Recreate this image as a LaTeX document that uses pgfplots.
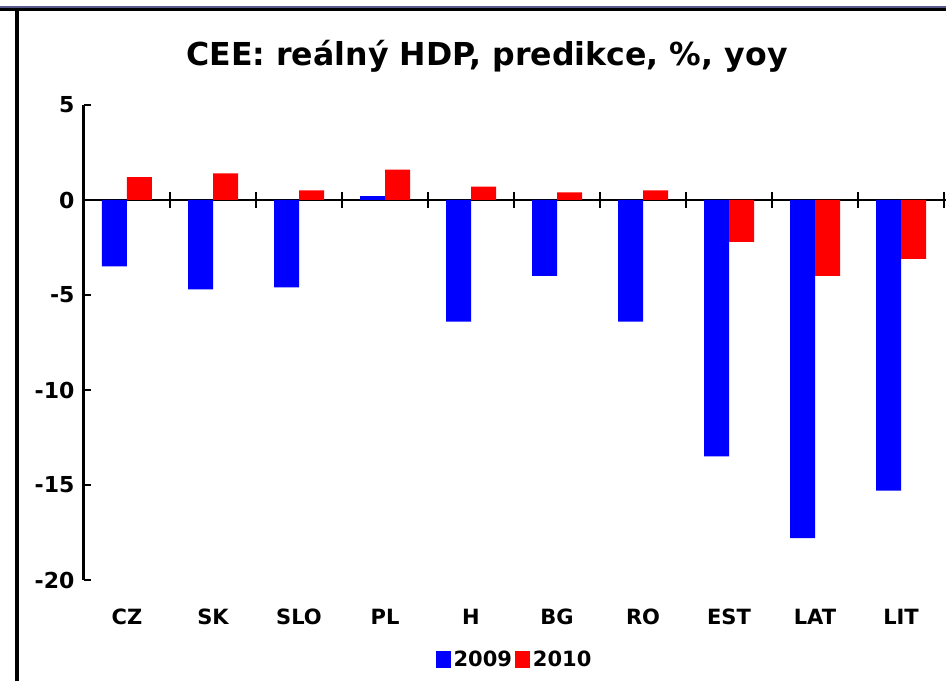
\documentclass[border=0pt]{standalone}
\usepackage{pgfplots}
\pgfplotsset{compat=1.18}
\usepackage{fontspec}
\setmainfont{DejaVu Sans}
\definecolor{barblue}{RGB}{0,0,255}
\definecolor{barred}{RGB}{255,0,0}
\definecolor{framenavy}{RGB}{90,90,140}
\begin{document}
\begin{tikzpicture}
\useasboundingbox (0pt,0pt) rectangle (946pt,681pt);
\fill[white] (0pt,0pt) rectangle (946pt,681pt);
% frame
\draw[framenavy, line width=2pt] (0pt,674pt) -- (946pt,674pt);
\draw[black, line width=3pt] (0pt,671pt) -- (946pt,671pt);
\draw[black, line width=3.5pt] (17pt,0pt) -- (17pt,672pt);
% title
\node[anchor=base, font=\fontsize{31.6}{36}\selectfont\bfseries] at (487pt,615pt) {CEE: reálný HDP, predikce, \%, yoy};
\begin{axis}[
  at={(127pt,481pt)}, anchor=origin,
  scale only axis, width=862pt, height=475pt,
  xmin=-0.5, xmax=9.523, ymin=-20, ymax=5,
  axis y line=left, axis x line=middle,
  x axis line style={-, line width=2.5pt},
  y axis line style={-, line width=3pt},
  ybar=0pt, bar width=25pt,
  xtick={0,...,9},
  xticklabels={CZ,SK,SLO,PL,H,BG,RO,EST,LAT,LIT},
  minor xtick={-0.5,0.5,...,9.5},
  xtick align=center,
  major x tick style={draw=none},
  minor x tick style={line width=2.5pt, black},
  minor tick length=16pt,
  hide obscured x ticks=false,
  xticklabel style={font=\fontsize{21}{24}\selectfont\bfseries, anchor=base, yshift=-421pt},
  ytick={-20,-15,...,5},
  ytick align=inside,
  major y tick style={line width=2.5pt, black},
  major tick length=7pt,
  yticklabel style={font=\fontsize{22}{26}\selectfont\bfseries, xshift=-6pt},
  /pgf/number format/assume math mode=true,
  legend style={draw=none, fill=none, at={(0.5,-0.168)}, anchor=center,
    legend columns=2, font=\fontsize{21}{24}\selectfont\bfseries,
    /tikz/every even column/.append style={column sep=0pt},
    nodes={inner xsep=3pt}},
  legend image code/.code={\fill[#1] (0pt,-8.5pt) rectangle (15pt,8.5pt);},
  clip=false,
]
\addplot[fill=barblue, draw=none] coordinates {
 (0,-3.5) (1,-4.7) (2,-4.6) (3,0.2) (4,-6.4) (5,-4.0) (6,-6.4) (7,-13.5) (8,-17.8) (9,-15.3)};
\addplot[fill=barred, draw=none] coordinates {
 (0,1.2) (1,1.4) (2,0.5) (3,1.6) (4,0.7) (5,0.4) (6,0.5) (7,-2.2) (8,-4.0) (9,-3.1)};
\legend{2009,2010}
\end{axis}
\end{tikzpicture}
\end{document}
